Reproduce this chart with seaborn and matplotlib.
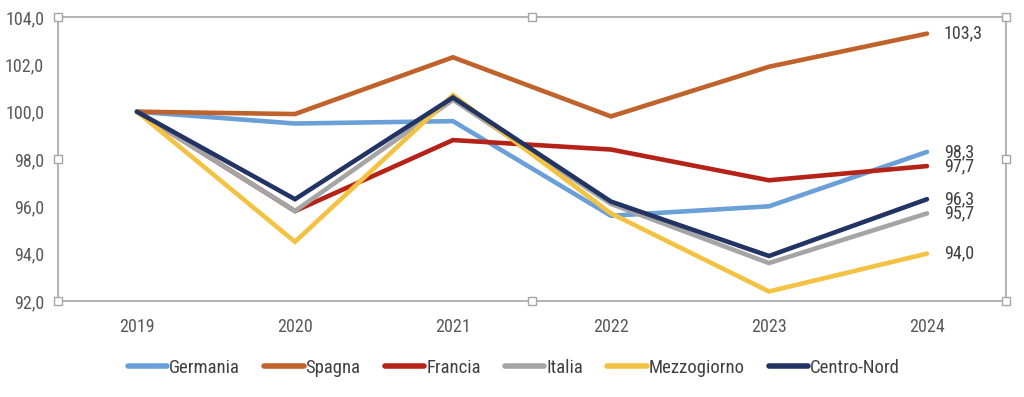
import numpy as np
import pandas as pd
import matplotlib
matplotlib.use('Agg')
import matplotlib.pyplot as plt
import seaborn as sns

sns.set_theme(style='white')
plt.rcParams['font.family'] = ['Roboto Condensed', 'Asap Condensed', 'Liberation Sans Narrow', 'DejaVu Sans']

anni = ['2019', '2020', '2021', '2022', '2023', '2024']
serie = ['Germania', 'Spagna', 'Francia', 'Italia', 'Mezzogiorno', 'Centro-Nord']
germania = [100.0, 99.5, 99.6, 95.6, 96.0, 98.3]
spagna = [100.0, 99.9, 102.3, 99.8, 101.9, 103.3]
francia = [100.0, 95.8, 98.8, 98.4, 97.1, 97.7]
italia = [100.0, 95.8, 100.5, 96.1, 93.6, 95.7]
mezzogiorno = [100.0, 94.5, 100.7, 95.7, 92.4, 94.0]
centro_nord = [100.0, 96.3, 100.6, 96.2, 93.9, 96.3]
colori = ['#6A9FD8', '#C0622B', '#B52217', '#A5A5A5', '#F4C242', '#223464']

valori = [germania, spagna, francia, italia, mezzogiorno, centro_nord]
righe = []
for nome, vals in zip(serie, valori):
    for i, v in enumerate(vals):
        righe.append({'pos': i, 'anno': anni[i], 'serie': nome, 'valore': v})
df = pd.DataFrame(righe)

fig = plt.figure(figsize=(10.24, 3.97), dpi=100)
ax = fig.add_axes([0.0566, 0.242, 0.9258, 0.715])

sns.lineplot(data=df, x='pos', y='valore', hue='serie', hue_order=serie,
             palette=colori, linewidth=3.3, ax=ax, legend=False, sort=False)
for ln in ax.lines:
    ln.set_solid_capstyle('round')
    ln.set_solid_joinstyle('miter')

# etichette valori finali
for nome, vals, c in zip(serie, valori, colori):
    ax.annotate(f'{vals[-1]:.1f}'.replace('.', ','), xy=(len(vals) - 1, vals[-1]),
                xytext=(12, 0), textcoords='offset points', va='center', ha='left',
                fontsize=13, color='#404040')

ax.set_xlim(-0.5, 5.5)
ax.set_ylim(92, 104)
ax.set_xticks(range(len(anni)))
ax.set_xticklabels(anni)
ax.set_yticks(np.arange(92, 104.1, 2))
ax.set_yticklabels([f'{t:.1f}'.replace('.', ',') for t in np.arange(92, 104.1, 2)])
ax.tick_params(axis='both', length=0, labelsize=13, colors='#595959', pad=10)
ax.tick_params(axis='x', pad=12)
ax.set_xlabel('')
ax.set_ylabel('')
for s in ax.spines.values():
    s.set_color('#A6A6A6')
    s.set_linewidth(1.2)

# maniglie di selezione della cornice
hx = [0, 0.5, 1, 0, 1, 0, 0.5, 1]
hy = [1, 1, 1, 0.5, 0.5, 0, 0, 0]
ax.plot(hx, hy, 's', ms=6, mfc='white', mec='#A6A6A6', mew=1,
        transform=ax.transAxes, clip_on=False, zorder=10)

handles = [plt.Line2D([], [], color=c, lw=4, solid_capstyle='round') for c in colori]
fig.legend(handles, serie, loc='center', bbox_to_anchor=(0.502, 0.073), ncol=6,
           frameon=False, fontsize=13.5, handlelength=2.1, handletextpad=0.1,
           columnspacing=1.3, labelcolor='#404040')

fig.savefig('out.png', dpi=100)
